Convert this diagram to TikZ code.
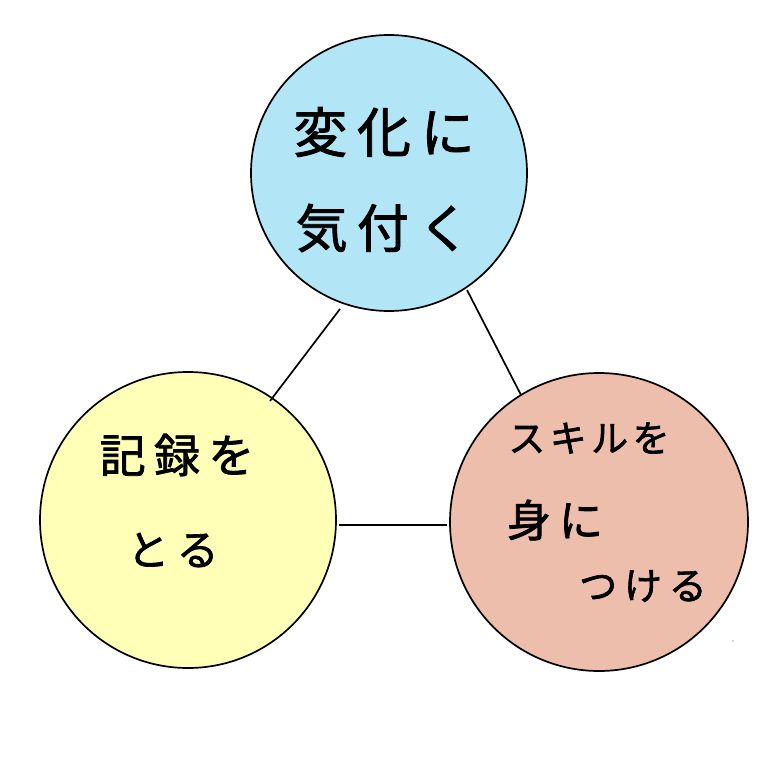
\documentclass[tikz,border=0pt]{standalone}
\usepackage{fontspec}
\newfontfamily\jpfont[LetterSpace=18,FakeBold=1.6]{Noto Sans CJK JP}
\definecolor{topblue}{HTML}{B2E5F5}
\definecolor{leftyellow}{HTML}{FFFFB7}
\definecolor{rightsalmon}{HTML}{EDBEAC}
\begin{document}
\begin{tikzpicture}[x=1pt,y=-1pt,
  bubble/.style={circle,draw=black,line width=1.7pt,inner sep=0pt},
  link/.style={draw=black,line width=1.7pt},
  jtext/.style={font=\jpfont\fontsize{46}{46}\selectfont,inner sep=0pt,anchor=center}]
\useasboundingbox (0,0) rectangle (768,768);
\fill[white] (0,0) rectangle (768,768);
\node[bubble,fill=topblue,minimum size=276pt] (top) at (389,173) {};
\node[bubble,fill=leftyellow,minimum size=296pt] (left) at (188,520) {};
\node[bubble,fill=rightsalmon,minimum size=298pt] (right) at (599,522) {};
\coordinate (tl1) at (340,309);
\coordinate (tl2) at (270,401);
\coordinate (tr1) at (467,290);
\coordinate (tr2) at (521,395);
\coordinate (lr1) at (339,525);
\coordinate (lr2) at (447,525);
\draw[link] (tl1) -- (tl2);
\draw[link] (tr1) -- (tr2);
\draw[link] (lr1) -- (lr2);
\node[jtext,font=\jpfont\fontsize{54}{54}\selectfont] (t1) at (384,132) {変化に};
\node[jtext,font=\jpfont\fontsize{52}{52}\selectfont] (t2) at (383,228) {気付く};
\node[jtext,font=\jpfont\fontsize{46}{46}\selectfont] (l1) at (177,455) {記録を};
\node[jtext,font=\jpfont\fontsize{42}{42}\selectfont] (l2) at (173,550) {とる};
\node[jtext,font=\jpfont\fontsize{37}{37}\selectfont\addfontfeature{LetterSpace=12}] (r1) at (589,438) {スキルを};
\node[jtext,font=\jpfont\fontsize{44}{44}\selectfont] (r2) at (555,520) {身に};
\node[jtext,font=\jpfont\fontsize{38}{38}\selectfont] (r3) at (643,586) {つける};
\fill[gray!70] (733,641) circle (0.8pt);
\end{tikzpicture}
\end{document}
